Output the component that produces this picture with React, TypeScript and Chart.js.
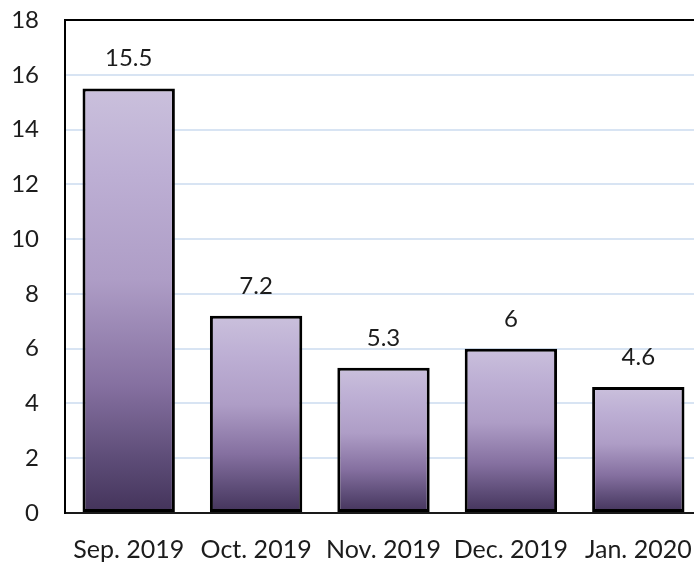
import React, { useEffect, useRef } from "react";
import { Chart, registerables } from "chart.js";

Chart.register(...registerables);

const categories = ["Sep. 2019", "Oct. 2019", "Nov. 2019", "Dec. 2019", "Jan. 2020"];
const values = [15.5, 7.2, 5.3, 6, 4.6];
const yTicks = [0, 2, 4, 6, 8, 10, 12, 14, 16, 18];

const FONT = "Lato, 'Open Sans', sans-serif";
const TEXT = "#1c1c1c";

const valueLabels = {
  id: "valueLabels",
  afterDatasetsDraw(chart: any) {
    const ctx = chart.ctx;
    const meta = chart.getDatasetMeta(0);
    ctx.save();
    ctx.font = `24px ${FONT}`;
    ctx.fillStyle = TEXT;
    ctx.textAlign = "center";
    ctx.textBaseline = "alphabetic";
    meta.data.forEach((bar: any, i: number) => {
      ctx.fillText(String(values[i]), bar.x, bar.y - 22);
    });
    ctx.restore();
  },
};

export default function App() {
  const ref = useRef<HTMLCanvasElement>(null);
  useEffect(() => {
    if (!ref.current) return;
    const chart = new Chart(ref.current, {
      type: "bar",
      data: {
        labels: categories,
        datasets: [
          {
            data: values,
            backgroundColor: (c: any) => {
              const ch = c.chart;
              if (!ch.chartArea || c.type !== "data") return "#b3a3c9";
              const top = ch.scales.y.getPixelForValue(c.raw);
              const base = ch.scales.y.getPixelForValue(0);
              const g = ch.ctx.createLinearGradient(0, top, 0, base);
              g.addColorStop(0, "#cac0dc");
              g.addColorStop(0.2, "#bdafd4");
              g.addColorStop(0.45, "#ae9dc6");
              g.addColorStop(0.7, "#8570a0");
              g.addColorStop(0.87, "#5e4d78");
              g.addColorStop(1, "#43335a");
              return g;
            },
            borderColor: "#000000",
            borderWidth: 3,
            borderSkipped: false,
            barPercentage: 0.725,
            categoryPercentage: 1,
          },
        ],
      },
      options: {
        responsive: false,
        animation: false,
        devicePixelRatio: 1,
        layout: { padding: { top: 20, right: 18, left: 0, bottom: 0 } },
        plugins: { legend: { display: false }, tooltip: { enabled: false } },
        scales: {
          x: {
            grid: { display: false, drawTicks: false },
            border: { color: "#1a1a1a", width: 2 },
            ticks: { color: TEXT, font: { family: FONT, size: 25 }, padding: 22, maxRotation: 0 },
            afterFit: (s: any) => {
              s.height = 51;
              s.paddingLeft = 0;
              s.paddingRight = 0;
            },
          },
          y: {
            min: 0,
            max: 18,
            afterBuildTicks: (s: any) => {
              s.ticks = yTicks.map((v) => ({ value: v }));
            },
            grid: {
              drawTicks: false,
              color: (c: any) => (c.tick && c.tick.value === 18 ? "#000000" : "#d8e4f3"),
              lineWidth: 2,
            },
            border: { color: "#000000", width: 2 },
            ticks: { color: TEXT, font: { family: FONT, size: 24 }, padding: 26 },
            afterFit: (s: any) => {
              s.width = 65;
              s.paddingTop = 0;
              s.paddingBottom = 0;
            },
          },
        },
      },
      plugins: [valueLabels],
    });
    return () => chart.destroy();
  }, []);
  return (
    <div
      style={{
        position: "fixed",
        left: 0,
        top: 0,
        width: 694,
        height: 564,
        overflow: "hidden",
        background: "#ffffff",
      }}
    >
      <canvas ref={ref} width={720} height={564} style={{ display: "block" }} />
    </div>
  );
}
